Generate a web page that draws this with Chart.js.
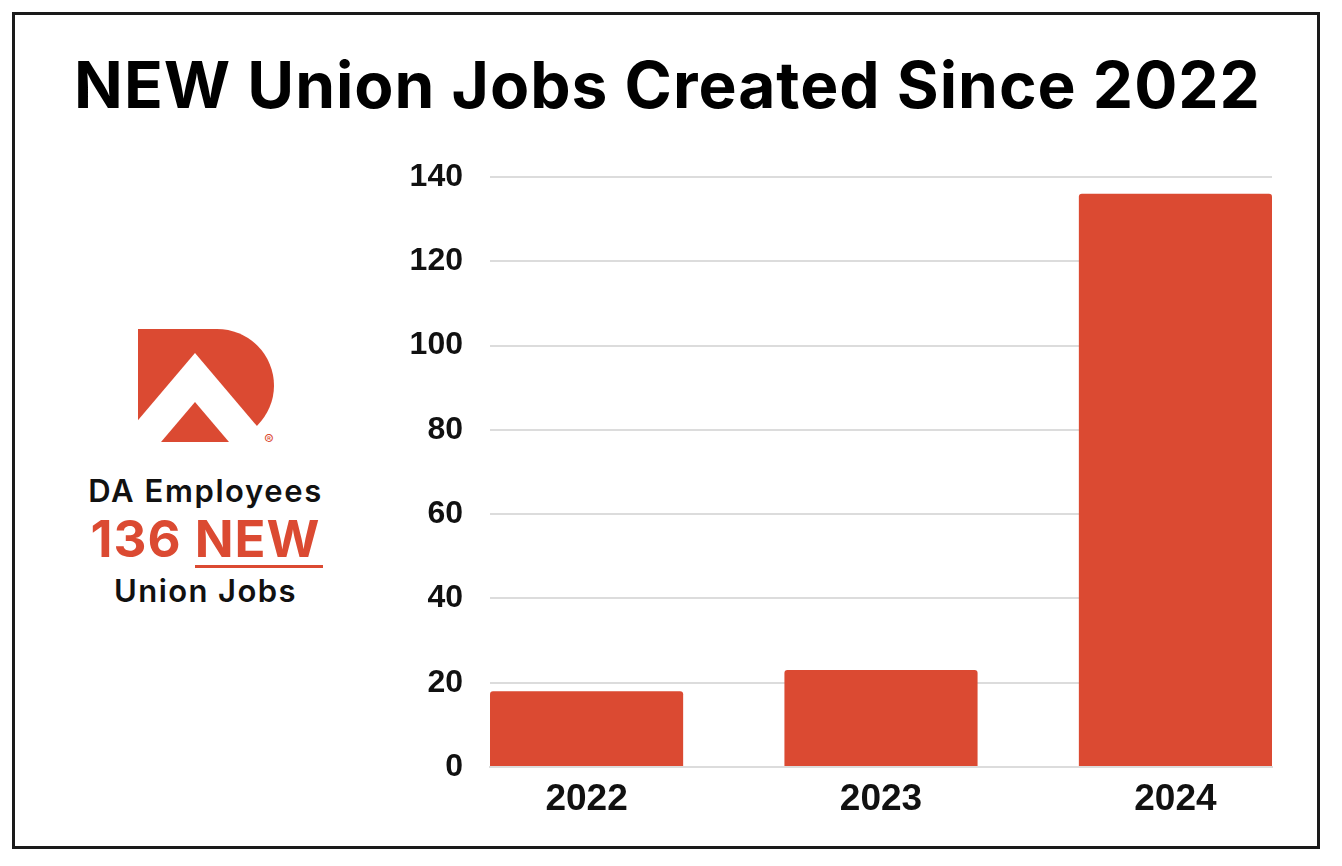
<!DOCTYPE html>
<html>
<head>
<meta charset="utf-8">
<script src="https://cdn.jsdelivr.net/npm/chart.js@4.4.1/dist/chart.umd.min.js"></script>
<style>
  html, body { margin: 0; padding: 0; background: #fff; }
  body { width: 1342px; height: 866px; position: relative; overflow: hidden; font-family: 'Inter', sans-serif; }
  #frame { position: absolute; left: 12px; top: 12px; width: 1302px; height: 831px; border: 3px solid #1a1a1a; }
  #title { position: absolute; left: 0; width: 1335px; top: 53px; text-align: center;
           font: 700 64px/64px 'Inter', sans-serif; letter-spacing: 1px; color: #000; white-space: nowrap; }
  .side { position: absolute; left: 0; width: 411px; text-align: center; white-space: nowrap; }
  #l1 { top: 475px; font: 600 31px/31px 'Inter', sans-serif; letter-spacing: 1.6px; color: #111; }
  #l2 { top: 513px; font: 700 51px/51px 'Inter', sans-serif; letter-spacing: 1px; color: #db4a32; }
  #l2 .u { display: inline-block; border-bottom: 3px solid #db4a32; padding-right: 3px; margin-right: -3px; line-height: 51px; height: 52px; }
  #l3 { top: 575px; font: 600 31px/31px 'Inter', sans-serif; letter-spacing: 1.4px; color: #111; }
  #logo { position: absolute; left: 0; top: 0; }
  #c { position: absolute; left: 0; top: 0; }
</style>
</head>
<body>
<div id="frame"></div>
<div id="title">NEW Union Jobs Created Since 2022</div>

<svg id="logo" width="400" height="470" viewBox="0 0 400 470">
  <path d="M138,329 H217 A57,56.5 0 0 1 217,442 H138 Z" fill="#db4a32"/>
  <polygon points="195,353 100,465 290,465" fill="#fff"/>
  <polygon points="195,402 161,442 229,442" fill="#db4a32"/>
  <text x="269" y="445" font-size="14" font-family="Inter, sans-serif" fill="#db4a32" text-anchor="middle">®</text>
</svg>
<div class="side" id="l1">DA Employees</div>
<div class="side" id="l2">136 <span class="u">NEW</span></div>
<div class="side" id="l3">Union Jobs</div>

<canvas id="c" width="1342" height="866"></canvas>

<script>
// data
const years = [2022, 2023, 2024];
const newJobs = [18, 23, 136];
const yTicks = [0, 20, 40, 60, 80, 100, 120, 140];

const barColor = "#db4a32";
const gridColor = "#dcdcdc";
// bars touch both ends of the plot, so the year axis runs half a bar past the first/last year
const edge = 0.328;

new Chart(document.getElementById("c"), {
  type: "bar",
  data: {
    datasets: [{
      label: "New union jobs",
      data: years.map((y, i) => ({ x: y, y: newJobs[i] })),
      backgroundColor: barColor,
      borderRadius: 3,
      borderSkipped: "start",
      barPercentage: 0.656,
      categoryPercentage: 1,
    }],
  },
  options: {
    responsive: false,
    animation: false,
    devicePixelRatio: 1,
    layout: { padding: { left: 0, right: 70, top: 177, bottom: 0 } },
    plugins: { legend: { display: false }, tooltip: { enabled: false } },
    scales: {
      x: {
        type: "linear",
        offset: false,
        min: years[0] - edge,
        max: years[years.length - 1] + edge,
        afterBuildTicks: (scale) => { scale.ticks = years.map(v => ({ value: v })); },
        grid: { display: false, drawTicks: false },
        border: { display: true, color: gridColor, width: 2 },
        ticks: {
          padding: 11,
          color: "#111",
          callback: (v) => String(v),
          font: { family: "'Liberation Sans', Arial, sans-serif", size: 37, weight: "bold" },
        },
        afterFit: (scale) => { scale.height = 99; },
      },
      y: {
        min: yTicks[0],
        max: yTicks[yTicks.length - 1],
        afterBuildTicks: (scale) => { scale.ticks = yTicks.map(v => ({ value: v })); },
        grid: { color: gridColor, lineWidth: 2, drawTicks: false },
        border: { display: false },
        ticks: {
          padding: 27,
          color: "#111",
          font: { family: "'Liberation Sans', Arial, sans-serif", size: 32, weight: "bold" },
        },
        afterFit: (scale) => { scale.width = 490; },
      },
    },
  },
});
</script>
</body>
</html>
